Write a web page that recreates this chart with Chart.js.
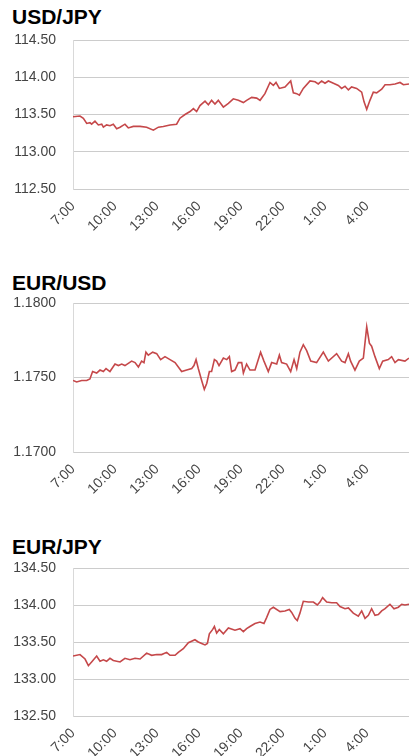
<!DOCTYPE html>
<html>
<head>
<meta charset="utf-8">
<script src="https://cdn.jsdelivr.net/npm/chart.js@4.4.0/dist/chart.umd.min.js"></script>
<style>
  html, body { margin: 0; padding: 0; background: #fff; overflow: hidden; }
  body { width: 410px; height: 756px; position: relative; font-family: "Liberation Sans", Arial, sans-serif; }
  .title { position: absolute; left: 12px; margin: 0; font-size: 21px; line-height: 21px; font-weight: bold; color: #000; }
  .box { position: absolute; left: 0; width: 410px; height: 216px; }
</style>
</head>
<body>
<h2 class="title" style="top:6px">USD/JPY</h2>
<div class="box" style="top:28px"><canvas id="chartUsdJpy"></canvas></div>
<h2 class="title" style="top:272px">EUR/USD</h2>
<div class="box" style="top:291px"><canvas id="chartEurUsd"></canvas></div>
<h2 class="title" style="top:536px">EUR/JPY</h2>
<div class="box" style="top:556px; height:215px"><canvas id="chartEurJpy"></canvas></div>

<script>
// x tick labels, every 3 hours starting 7:00
const timeLabels = ['7:00', '10:00', '13:00', '16:00', '19:00', '22:00', '1:00', '4:00'];

// hours since 7:00 and rates
const usdJpyHours = [
    0, 0.5, 0.74, 0.98, 1.21, 1.33, 1.57, 1.81, 2.05, 2.17,
    2.40, 2.64, 2.88, 3.12, 3.36, 3.71, 3.95, 4.31, 4.79, 5.26,
    5.74, 6.10, 6.45, 6.93, 7.40, 7.64, 8.00, 8.36, 8.60, 8.83,
    9.07, 9.43, 9.67, 9.90, 10.14, 10.38, 10.74, 11.10, 11.45, 11.81,
    12.17, 12.40, 12.76, 13.12, 13.36, 13.71, 14.07, 14.31, 14.50, 14.74,
    15.14, 15.55, 15.74, 15.98, 16.17, 16.45, 16.93, 17.29, 17.52, 17.76,
    18.00, 18.24, 18.60, 18.95, 19.19, 19.43, 19.67, 19.90, 20.26, 20.62,
    20.79, 20.98, 21.21, 21.45, 21.69, 22.05, 22.29, 22.64, 23.00, 23.36,
    23.60, 24.00
];
const usdJpyRates = [
    113.47, 113.48, 113.45, 113.38, 113.39, 113.37, 113.41, 113.36, 113.37, 113.33,
    113.36, 113.35, 113.37, 113.31, 113.33, 113.37, 113.32, 113.34, 113.34, 113.33,
    113.29, 113.33, 113.34, 113.36, 113.37, 113.45, 113.50, 113.54, 113.58, 113.54,
    113.62, 113.68, 113.63, 113.69, 113.64, 113.69, 113.60, 113.65, 113.71, 113.69,
    113.66, 113.69, 113.73, 113.72, 113.69, 113.78, 113.93, 113.89, 113.93, 113.85,
    113.87, 113.95, 113.79, 113.78, 113.76, 113.85, 113.95, 113.94, 113.91, 113.95,
    113.92, 113.95, 113.92, 113.89, 113.85, 113.88, 113.83, 113.87, 113.85, 113.80,
    113.67, 113.57, 113.69, 113.80, 113.79, 113.84, 113.90, 113.90, 113.91, 113.93,
    113.90, 113.91
];

const eurUsdHours = [
    0, 0.26, 0.62, 0.98, 1.21, 1.40, 1.69, 1.93, 2.17, 2.36,
    2.64, 3.00, 3.24, 3.48, 3.71, 4.19, 4.43, 4.67, 4.90, 5.07,
    5.21, 5.38, 5.69, 5.98, 6.26, 6.57, 6.93, 7.29, 7.76, 8.12,
    8.48, 8.64, 8.79, 8.95, 9.19, 9.38, 9.55, 9.74, 9.90, 10.10,
    10.26, 10.43, 10.74, 10.98, 11.17, 11.33, 11.57, 11.81, 12.05, 12.17,
    12.40, 12.64, 13.00, 13.40, 13.64, 13.95, 14.19, 14.55, 14.74, 14.90,
    15.26, 15.55, 15.79, 15.98, 16.21, 16.45, 16.69, 16.98, 17.40, 17.88,
    18.12, 18.24, 18.83, 19.19, 19.43, 19.67, 19.83, 20.14, 20.45, 20.74,
    20.98, 21.17, 21.33, 21.57, 21.88, 22.12, 22.52, 22.76, 23.00, 23.24,
    23.71, 24.00
];
const eurUsdRates = [
    1.1748, 1.1747, 1.1748, 1.1748, 1.1749, 1.1754, 1.1753, 1.1755, 1.1754, 1.1756,
    1.1754, 1.1759, 1.1758, 1.1759, 1.1758, 1.1761, 1.1760, 1.1757, 1.1761, 1.1760,
    1.1767, 1.1765, 1.1767, 1.1766, 1.1762, 1.1764, 1.1762, 1.1760, 1.1754, 1.1755,
    1.1756, 1.1758, 1.1762, 1.1756, 1.1748, 1.1742, 1.1746, 1.1754, 1.1754, 1.1762,
    1.1761, 1.1758, 1.1763, 1.1762, 1.1764, 1.1754, 1.1755, 1.1760, 1.1760, 1.1753,
    1.1759, 1.1755, 1.1755, 1.1767, 1.1761, 1.1754, 1.1760, 1.1759, 1.1765, 1.1760,
    1.1759, 1.1754, 1.1762, 1.1756, 1.1767, 1.1772, 1.1768, 1.1761, 1.1760, 1.1767,
    1.1763, 1.1761, 1.1766, 1.1761, 1.1760, 1.1766, 1.1761, 1.1755, 1.1761, 1.1763,
    1.1784, 1.1773, 1.1771, 1.1764, 1.1756, 1.1761, 1.1762, 1.1764, 1.1760, 1.1762,
    1.1761, 1.1763
];

const eurJpyHours = [
    0, 0.50, 0.86, 1.10, 1.33, 1.69, 1.93, 2.17, 2.40, 2.64,
    2.88, 3.36, 3.71, 4.07, 4.43, 4.79, 5.26, 5.62, 5.98, 6.33,
    6.69, 6.93, 7.29, 7.52, 7.88, 8.24, 8.71, 8.95, 9.19, 9.43,
    9.60, 9.74, 9.98, 10.10, 10.26, 10.45, 10.74, 11.10, 11.57, 11.93,
    12.17, 12.40, 12.64, 13.00, 13.36, 13.64, 13.83, 14.07, 14.31, 14.79,
    15.14, 15.45, 15.62, 15.86, 16.02, 16.21, 16.45, 16.81, 17.17, 17.45,
    17.64, 17.83, 18.12, 18.48, 18.83, 19.07, 19.43, 19.67, 20.02, 20.38,
    20.62, 20.86, 21.10, 21.33, 21.57, 21.81, 22.05, 22.29, 22.64, 22.93,
    23.24, 23.48, 23.71, 24.00
];
const eurJpyRates = [
    133.31, 133.33, 133.27, 133.18, 133.23, 133.31, 133.24, 133.26, 133.24, 133.28,
    133.25, 133.23, 133.28, 133.26, 133.28, 133.27, 133.35, 133.32, 133.33, 133.33,
    133.36, 133.32, 133.32, 133.36, 133.41, 133.49, 133.53, 133.50, 133.48, 133.46,
    133.48, 133.61, 133.67, 133.71, 133.62, 133.67, 133.61, 133.69, 133.66, 133.68,
    133.64, 133.68, 133.71, 133.75, 133.77, 133.75, 133.83, 133.94, 133.97, 133.91,
    133.92, 133.94, 133.90, 133.82, 133.79, 133.89, 134.05, 134.04, 134.04, 134.00,
    134.04, 134.10, 134.04, 134.03, 134.03, 133.98, 133.95, 133.96, 133.89, 133.85,
    133.92, 133.82, 133.86, 133.95, 133.86, 133.87, 133.92, 133.95, 134.01, 133.95,
    133.97, 134.01, 134.00, 134.01
];

Chart.defaults.font.family = '"Liberation Sans", Arial, sans-serif';
Chart.defaults.font.size = 14;
Chart.defaults.color = '#444';

/**
 * One rate chart: thin red line, light grid, rotated time labels
 */
function makeRateChart(id, hours, rates, yMin, yMax, yStep, decimals) {
    const ctx = document.getElementById(id);
    return new Chart(ctx, {
        type: 'line',
        data: {
            datasets: [{
                data: hours.map((h, i) => ({ x: h, y: rates[i] })),
                borderColor: '#c5484a',
                borderWidth: 1.6,
                pointRadius: 0,
                tension: 0,
                fill: false
            }]
        },
        options: {
            responsive: true,
            maintainAspectRatio: false,
            animation: false,
            layout: { padding: { top: 12, right: 1, left: 0, bottom: 0 } },
            plugins: {
                legend: { display: false },
                tooltip: { enabled: false }
            },
            scales: {
                x: {
                    type: 'linear',
                    min: 0,
                    max: 24,
                    afterBuildTicks: function (axis) {
                        axis.ticks = timeLabels.map((_, i) => ({ value: i * 3 }));
                    },
                    afterFit: function (axis) {
                        axis.height = 55;
                    },
                    grid: { display: false, drawTicks: false },
                    border: { display: false },
                    ticks: {
                        autoSkip: false,
                        minRotation: 45,
                        maxRotation: 45,
                        padding: 9,
                        color: '#444',
                        callback: function (value) {
                            return timeLabels[Math.round(value / 3)] || '';
                        }
                    }
                },
                y: {
                    min: yMin,
                    max: yMax,
                    afterFit: function (axis) {
                        // fixed axis width, and keep the tick padding from pushing the plot down
                        axis.width = 73;
                        axis.paddingTop = 8;
                        axis.paddingBottom = 8;
                    },
                    grid: { color: '#cccccc', lineWidth: 1, drawTicks: false },
                    border: { display: true, color: '#d9d9d9', width: 1 },
                    ticks: {
                        stepSize: yStep,
                        padding: 17,
                        color: '#444',
                        callback: function (value) {
                            return value.toFixed(decimals);
                        }
                    }
                }
            }
        }
    });
}

document.addEventListener('DOMContentLoaded', function () {
    makeRateChart('chartUsdJpy', usdJpyHours, usdJpyRates, 112.5, 114.5, 0.5, 2);
    makeRateChart('chartEurUsd', eurUsdHours, eurUsdRates, 1.17, 1.18, 0.005, 4);
    makeRateChart('chartEurJpy', eurJpyHours, eurJpyRates, 132.5, 134.5, 0.5, 2);
});
</script>
</body>
</html>
